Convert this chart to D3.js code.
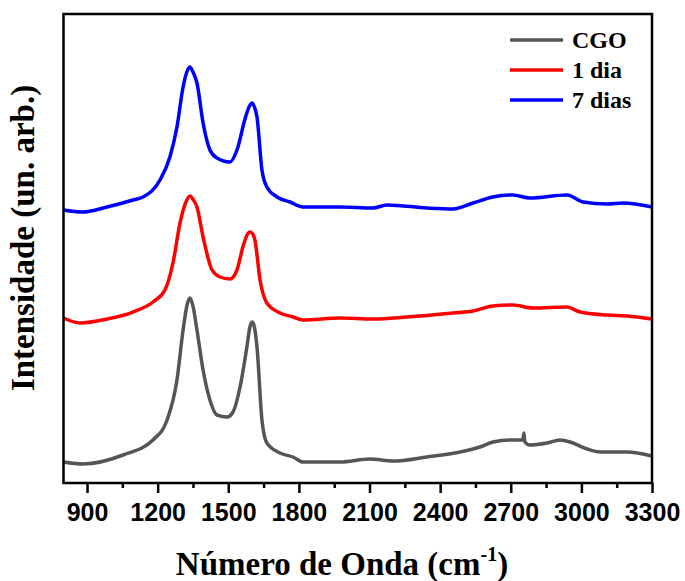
<!DOCTYPE html>
<html>
<head>
<meta charset="utf-8">
<script src="https://cdn.jsdelivr.net/npm/d3@7"></script>
<style>
body { margin: 0; background: #fff; }
</style>
</head>
<body>
<svg id="chart" width="685" height="581"></svg>
<script>
// raman spectra (intensity in arb. units)
var cgoWave = [800, 883, 1053, 1180, 1240, 1282, 1308, 1325, 1337, 1350, 1367, 1393, 1422, 1452, 1495, 1520, 1550, 1579, 1592, 1601, 1610, 1622, 1643, 1664, 1720, 1775, 1817, 1975, 2102, 2200, 2344, 2484, 2569, 2624, 2697, 2748, 2752, 2756, 2760, 2781, 2854, 2909, 2952, 3024, 3079, 3194, 3300];
var cgoInt  = [21, 19, 28, 43, 63, 103, 153, 178, 185, 177, 153, 113, 83, 68, 66, 71, 96, 136, 156, 161, 157, 136, 63, 40, 30, 26, 21, 21, 24, 22, 26, 31, 36, 41, 43, 43, 44, 50, 41, 38, 40, 43, 41, 34, 31, 31, 27];

var dia1Wave = [800, 870, 985, 1095, 1180, 1231, 1265, 1295, 1322, 1337, 1352, 1367, 1393, 1431, 1465, 1507, 1537, 1562, 1580, 1592, 1604, 1613, 1635, 1664, 1720, 1775, 1817, 1975, 2115, 2259, 2455, 2540, 2624, 2709, 2794, 2939, 2994, 3109, 3194, 3300];
var dia1Int  = [165, 160, 164, 171, 181, 193, 220, 260, 282, 287, 283, 276, 246, 213, 206, 204, 213, 236, 248, 251, 249, 243, 203, 180, 170, 166, 163, 165, 164, 166, 170, 172, 177, 178, 175, 176, 171, 168, 167, 164];

var dia7Wave = [800, 879, 985, 1095, 1138, 1210, 1252, 1282, 1308, 1324, 1337, 1350, 1367, 1393, 1422, 1452, 1507, 1537, 1571, 1590, 1601, 1611, 1622, 1643, 1664, 1707, 1762, 1817, 1877, 1975, 2115, 2174, 2344, 2455, 2540, 2624, 2709, 2781, 2939, 3007, 3109, 3177, 3300];
var dia7Int  = [273, 271, 276, 283, 286, 303, 326, 356, 396, 411, 416, 411, 400, 360, 333, 325, 321, 333, 364, 377, 380, 376, 366, 313, 296, 286, 281, 276, 276, 276, 275, 278, 275, 274, 280, 286, 288, 285, 288, 281, 279, 280, 276];

var seriesNames = ["CGO", "1 dia", "7 dias"];
var seriesColors = ["#555555", "#ff0000", "#0000ff"];
var xTicks = [900, 1200, 1500, 1800, 2100, 2400, 2700, 3000, 3300];
var xMinorTicks = [1050, 1350, 1650, 1950, 2250, 2550, 2850, 3150];

var series = [
    { name: seriesNames[0], color: seriesColors[0], pts: d3.zip(cgoWave, cgoInt) },
    { name: seriesNames[1], color: seriesColors[1], pts: d3.zip(dia1Wave, dia1Int) },
    { name: seriesNames[2], color: seriesColors[2], pts: d3.zip(dia7Wave, dia7Int) }
];

var svg = d3.select("#chart");
var plotL = 63.5, plotR = 652, plotT = 14, plotB = 483;

var x = d3.scaleLinear().domain([800, 3300]).range([plotL, plotR]);
var y = d3.scaleLinear().domain([0, 469]).range([plotB, plotT]);

var line = d3.line()
    .x(function(d) { return x(d[0]); })
    .y(function(d) { return y(d[1]); })
    .curve(d3.curveMonotoneX);

svg.append("g").selectAll("path")
    .data(series)
    .enter()
    .append("path")
    .attr("d", function(d) { return line(d.pts); })
    .attr("fill", "none")
    .attr("stroke", function(d) { return d.color; })
    .attr("stroke-width", 3.5)
    .attr("stroke-linejoin", "round");

// frame
svg.append("rect")
    .attr("x", plotL).attr("y", plotT)
    .attr("width", plotR - plotL).attr("height", plotB - plotT)
    .attr("fill", "none").attr("stroke", "#000").attr("stroke-width", 2.5);

// x axis
var xAxis = svg.append("g")
    .attr("transform", "translate(0," + plotB + ")")
    .call(d3.axisBottom(x).tickValues(xTicks).tickSize(10).tickPadding(10).tickFormat(d3.format("d")));
xAxis.select(".domain").remove();
xAxis.selectAll("line").attr("stroke-width", 2.5);
xAxis.selectAll("text")
    .attr("font-family", "Liberation Sans, Arial, sans-serif")
    .attr("font-weight", "bold")
    .attr("font-size", 25)
    .attr("fill", "#000");

var xMinor = svg.append("g")
    .attr("transform", "translate(0," + plotB + ")")
    .call(d3.axisBottom(x).tickValues(xMinorTicks).tickSize(5).tickFormat(""));
xMinor.select(".domain").remove();
xMinor.selectAll("line").attr("stroke-width", 2.5);

// axis titles
var xTitle = svg.append("text")
    .attr("x", 342).attr("y", 575)
    .attr("text-anchor", "middle")
    .attr("font-family", "Liberation Serif, Times New Roman, serif")
    .attr("font-weight", "bold")
    .attr("font-size", 33);
xTitle.append("tspan").text("Número de Onda (cm");
xTitle.append("tspan").attr("font-size", 20).attr("dy", -14).text("-1");
xTitle.append("tspan").attr("dy", 14).text(")");

svg.append("text")
    .attr("transform", "translate(34,238) rotate(-90)")
    .attr("text-anchor", "middle")
    .attr("font-family", "Liberation Serif, Times New Roman, serif")
    .attr("font-weight", "bold")
    .attr("font-size", 33)
    .text("Intensidade (un. arb.)");

// legend
var legend = svg.append("g").selectAll("g")
    .data(series)
    .enter()
    .append("g")
    .attr("transform", function(d, i) { return "translate(510," + (40 + i * 30) + ")"; });
legend.append("line")
    .attr("x1", 0).attr("x2", 53)
    .attr("stroke", function(d) { return d.color; })
    .attr("stroke-width", 3.5);
legend.append("text")
    .attr("x", 62).attr("y", 8)
    .attr("font-family", "Liberation Serif, Times New Roman, serif")
    .attr("font-weight", "bold")
    .attr("font-size", 24)
    .text(function(d) { return d.name; });
</script>
</body>
</html>
